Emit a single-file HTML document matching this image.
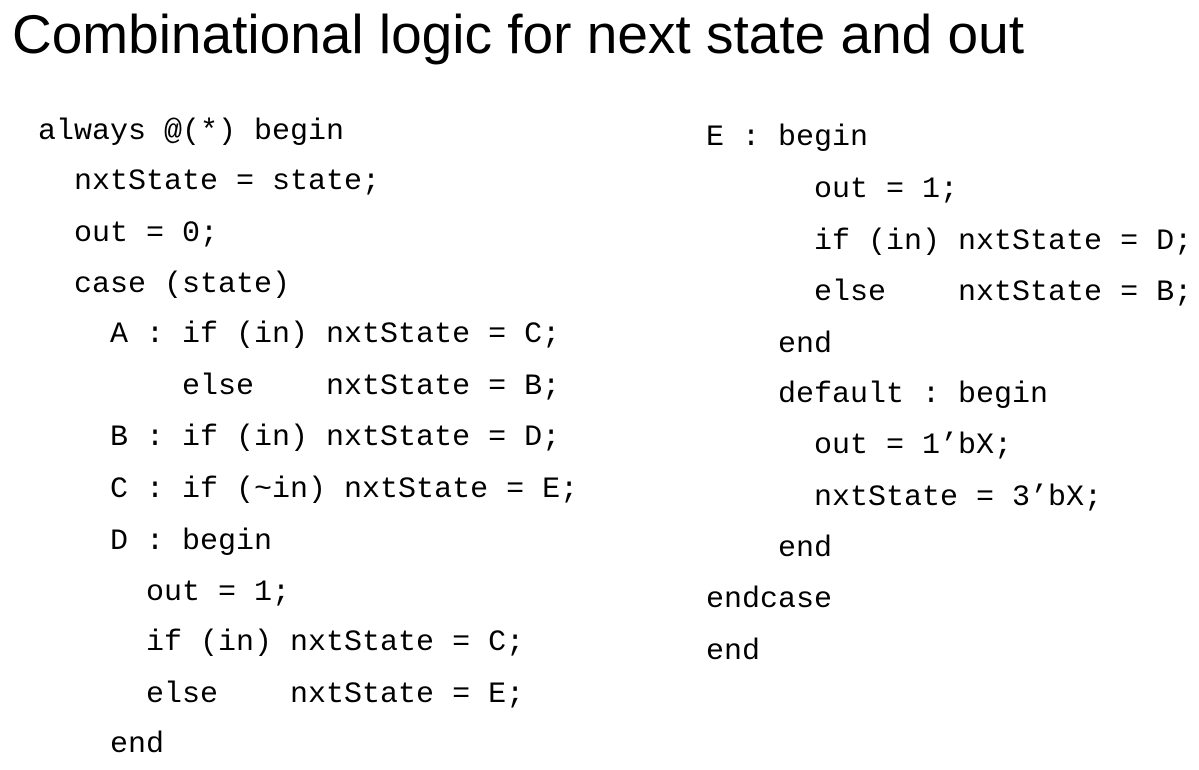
<!DOCTYPE html>
<html><head><meta charset="utf-8"><style>
body{margin:0;width:1199px;height:770px;background:#fff;overflow:hidden;position:relative}
.t{position:absolute;left:12px;top:4px;font-family:"Liberation Sans",sans-serif;font-size:55px;line-height:60px;color:#000;white-space:pre}
.c{position:absolute;font-family:"Liberation Mono",monospace;font-size:30px;line-height:30px;color:#000;white-space:pre;margin-top:2px}
</style></head><body>
<div class="t">Combinational logic for next state and out</div>
<div class="c" style="left:38px;top:115px">always @(*) begin</div>
<div class="c" style="left:38px;top:165px">  nxtState = state;</div>
<div class="c" style="left:38px;top:217px">  out = 0;</div>
<div class="c" style="left:38px;top:268px">  case (state)</div>
<div class="c" style="left:38px;top:318px">    A : if (in) nxtState = C;</div>
<div class="c" style="left:38px;top:370px">        else    nxtState = B;</div>
<div class="c" style="left:38px;top:421px">    B : if (in) nxtState = D;</div>
<div class="c" style="left:38px;top:473px">    C : if (~in) nxtState = E;</div>
<div class="c" style="left:38px;top:525px">    D : begin</div>
<div class="c" style="left:38px;top:576px">      out = 1;</div>
<div class="c" style="left:38px;top:626px">      if (in) nxtState = C;</div>
<div class="c" style="left:38px;top:678px">      else    nxtState = E;</div>
<div class="c" style="left:38px;top:728px">    end</div>
<div class="c" style="left:706px;top:121px">E : begin</div>
<div class="c" style="left:706px;top:173px">      out = 1;</div>
<div class="c" style="left:706px;top:225px">      if (in) nxtState = D;</div>
<div class="c" style="left:706px;top:276px">      else    nxtState = B;</div>
<div class="c" style="left:706px;top:328px">    end</div>
<div class="c" style="left:706px;top:378px">    default : begin</div>
<div class="c" style="left:706px;top:429px">      out = 1’bX;</div>
<div class="c" style="left:706px;top:481px">      nxtState = 3’bX;</div>
<div class="c" style="left:706px;top:532px">    end</div>
<div class="c" style="left:706px;top:583px">endcase</div>
<div class="c" style="left:706px;top:635px">end</div>
</body></html>
